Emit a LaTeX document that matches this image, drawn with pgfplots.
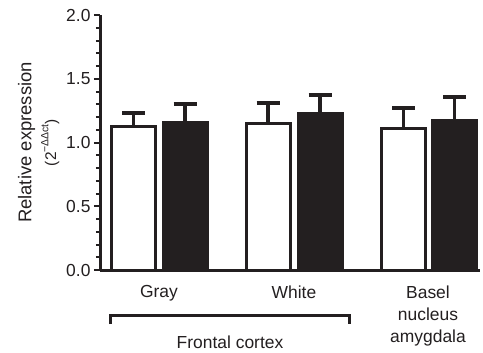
\documentclass[border=0pt]{standalone}
\usepackage{fontspec}
\setmainfont{Liberation Sans}
\usepackage{pgfplots}
\pgfplotsset{compat=1.18}
\definecolor{ink}{HTML}{231F20}
\begin{document}
\begin{tikzpicture}[x=1bp,y=1bp]
\useasboundingbox (-100,-82) rectangle (383,270);
\begin{axis}[
  at={(0,0)}, anchor=south west,
  scale only axis, width=380bp, height=255bp,
  xmin=100, xmax=480, ymin=0, ymax=2,
  axis x line*=bottom, axis y line*=left,
  axis line style={line width=3bp, color=ink},
  every tick/.style={line width=2bp, color=ink},
  tick align=outside,
  major tick length=6bp, minor tick length=4bp,
  ytick={0,0.5,1,1.5,2}, minor y tick num=4,
  yticklabel style={/pgf/number format/fixed,/pgf/number format/fixed zerofill,/pgf/number format/precision=1},
  /pgf/number format/assume math mode=true,
  ticklabel style={font=\fontsize{17.5}{22.5}\selectfont, color=ink},
  xtick={159,294,428}, x tick style={draw=none}, xtick pos=bottom,
  xticklabels={Gray,White,{Basel\\nucleus\\amygdala}},
  xticklabel style={align=center, yshift=-6bp},
  ylabel={Relative expression\\[2bp]{\fontsize{15.5}{16}\selectfont (2\raisebox{0.5em}{\fontsize{10.5}{11}\selectfont −ΔΔct})}},
  ylabel style={align=center, font=\fontsize{18.5}{23}\selectfont, color=ink},
  clip=false,
]
\addplot[ybar, bar width=44, bar shift=0, fill=white, draw=ink, line width=3bp,
  error bars/.cd, y dir=plus, y explicit,
  error bar style={line width=3.3bp, color=ink},
  error mark options={rotate=90, mark size=11.5bp, line width=4bp, color=ink}]
  coordinates {(133.5,1.128) +- (0,0.10) (268,1.147) +- (0,0.16) (403.5,1.107) +- (0,0.16)};
\addplot[ybar, bar width=44, bar shift=0, fill=ink, draw=ink, line width=3bp,
  error bars/.cd, y dir=plus, y explicit,
  error bar style={line width=3.3bp, color=ink},
  error mark options={rotate=90, mark size=11.5bp, line width=4bp, color=ink}]
  coordinates {(185,1.155) +- (0,0.145) (320,1.227) +- (0,0.148) (454.5,1.175) +- (0,0.185)};
\end{axis}
\draw[ink, line width=3bp] (10,-54) -- (10,-45.5) -- (249,-45.5) -- (249,-54);
\node[ink, font=\fontsize{17.5}{22.5}\selectfont] at (130,-72) {Frontal cortex};
\end{tikzpicture}
\end{document}
